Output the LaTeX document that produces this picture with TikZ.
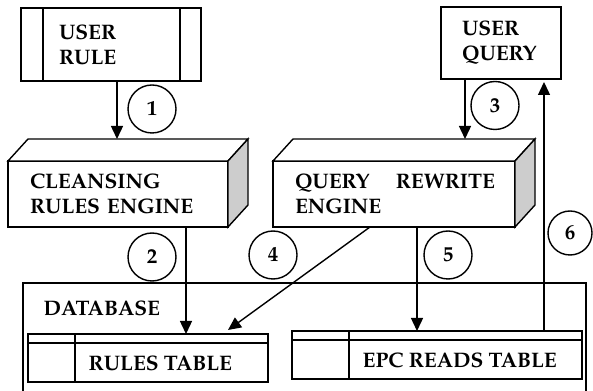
\documentclass[tikz,border=0pt]{standalone}
\usepackage[T1]{fontenc}
\usepackage{palatino}
\usepackage{tikz}
\usetikzlibrary{positioning,arrows.meta,calc}
\definecolor{grisface}{RGB}{205,205,205}

\begin{document}
\begin{tikzpicture}[x=1pt,y=1pt,line width=1.4pt,
  font=\fontsize{21}{25}\fontseries{b}\selectfont,
  boite/.style={draw,align=left,inner ysep=0pt,outer sep=0pt},
  fleche/.style={-{Triangle[length=13pt,width=12pt]}},
  pastille/.style={draw,circle,minimum size=48pt,inner sep=0pt},
  tableau/.style={draw,minimum height=48pt,inner sep=0pt,outer sep=0pt},
  texte/.style={anchor=west,inner sep=0pt}]
\clip (0,0) rectangle (593,390);
\fill[white] (0,0) rectangle (593,390);
% sources
\node[boite,minimum height=73pt,inner xsep=38pt,text width=104pt] (urule) at (111,345.5) {USER\\RULE};
\draw ([xshift=22pt]urule.north west) -- ([xshift=22pt]urule.south west);
\draw ([xshift=-21pt]urule.north east) -- ([xshift=-21pt]urule.south east);
\node[boite,minimum height=72pt,inner xsep=21pt,text width=78pt] (uquery) at (501,347) {USER\\QUERY};
% moteurs
\node[boite,minimum height=66pt,inner xsep=22pt,text width=176pt] (cre) at (118,196) {CLEANSING\\RULES ENGINE};
\node[boite,minimum height=66pt,inner xsep=22pt,text width=198pt] (qre) at (394,196) {\hbox to 200pt{QUERY\hfill REWRITE}\\ENGINE};
\foreach \c in {cre,qre}{
  \draw[fill=white] (\c.north west) -- ++(20,22) -- ($(\c.north east)+(20,22)$) -- (\c.north east) -- cycle;
  \draw[fill=grisface] (\c.north east) -- ++(20,22) -- ($(\c.south east)+(20,22)$) -- (\c.south east) -- cycle;
  \coordinate (\c top) at ($(\c.north)+(0,22)$);
}
% base
\node[draw,minimum width=563pt,minimum height=112pt,outer sep=0pt] (db) at (304.5,51) {};
\node[texte] (dbtitre) at (43,82) {DATABASE};
\node[tableau,minimum width=240pt] (rtab) at (148,32) {};
\draw ([yshift=-9pt]rtab.north west) -- ([yshift=-9pt]rtab.north east);
\draw ([xshift=47pt]rtab.north west) -- ([xshift=47pt]rtab.south west);
\node[texte] (rtxt) at (88,27) {RULES TABLE};
\node[tableau,minimum width=290pt] (etab) at (437,35) {};
\draw ([yshift=-9pt]etab.north west) -- ([yshift=-9pt]etab.north east);
\draw ([xshift=57pt]etab.north west) -- ([xshift=57pt]etab.south west);
\node[texte] (etxt) at (362,30) {EPC READS TABLE};
% etapes
\node[pastille] (n1) at (152,281) {1};
\node[pastille] (n2) at (152,133) {2};
\node[pastille] (n3) at (495,284.5) {3};
\node[pastille] (n4) at (273,135) {4};
\node[pastille] (n5) at (448,135) {5};
\node[pastille,minimum size=44pt] (n6) at (570,157) {6};
\draw[fleche] ([xshift=6pt]urule.south) -- ([xshift=6pt]urule.south |- cretop);
\draw[fleche] ([xshift=68pt]cre.south) -- ([xshift=68pt]cre.south |- rtab.north);
\draw[fleche] ([xshift=-36pt]uquery.south) -- ([xshift=-36pt]uquery.south |- qretop);
\draw[fleche] ([xshift=-24pt]qre.south) -- ([xshift=80pt,yshift=4pt]rtab.north);
\draw[fleche] ([xshift=23pt]qre.south) -- ([xshift=23pt]qre.south |- etab.north);
\draw[fleche] ([xshift=107pt]etab.north) -- ([xshift=107pt,yshift=-3pt]etab.north |- uquery.south);
\end{tikzpicture}
\end{document}
